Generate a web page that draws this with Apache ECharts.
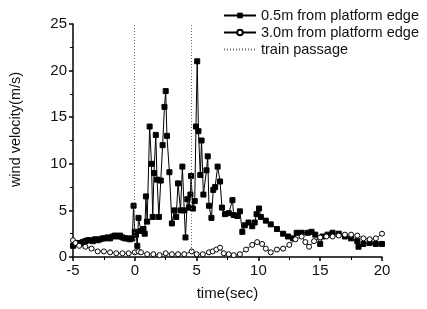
<!DOCTYPE html>
<html>
<head>
<meta charset="utf-8">
<script src="https://cdn.jsdelivr.net/npm/echarts@6/dist/echarts.min.js"></script>
<style>
    html, body { margin: 0; padding: 0; background: #fff; }
    #chart { width: 427px; height: 309px; }
</style>
</head>
<body>
<div id="chart"></div>
<script>
    // 0.5m from platform edge
    var t1 = [-5, -4.8, -4.6, -4.4, -4.2, -4, -3.8, -3.6, -3.4, -3.2, -3, -2.8, -2.6, -2.4, -2.2, -2, -1.8, -1.6, -1.4, -1.2, -1, -0.8, -0.6, -0.4, -0.2,
        -0.1, 0, 0.1, 0.2, 0.3, 0.5, 0.7, 0.8, 0.9, 1.0, 1.2, 1.35, 1.45, 1.55, 1.7, 1.8, 1.95, 2.1, 2.25, 2.4, 2.5, 2.6, 2.8, 3.0, 3.2, 3.35, 3.5, 3.7, 3.85,
        4.0, 4.1, 4.25, 4.4, 4.5, 4.55, 4.7, 4.85, 4.95, 5.05, 5.15, 5.3, 5.4, 5.55, 5.8, 5.9, 6.0, 6.2, 6.35, 6.5, 6.7, 6.9, 7.05, 7.3, 7.6, 7.9, 8.0,
        8.3, 8.5, 8.7, 8.9, 9.2, 9.5, 9.7, 9.85, 10.05, 10.2, 10.6, 11.0, 11.5, 12.0, 12.4, 12.8, 13.1, 13.5, 14.0, 14.3, 14.6, 15.0, 15.2, 15.6, 16.0,
        16.5, 17.0, 17.5, 18.0, 18.1, 18.5, 19.0, 19.5, 20];
    var v1 = [1.2, 1.4, 1.5, 1.5, 1.6, 1.7, 1.8, 1.8, 1.7, 1.9, 1.8, 1.9, 2.0, 2.0, 2.1, 2.0, 2.2, 2.3, 2.2, 2.3, 2.1, 2.0, 2.0, 1.9, 2.0,
        5.5, 2.7, 2.4, 1.2, 4.2, 2.8, 3.0, 2.5, 6.5, 3.8, 14.0, 10.0, 4.3, 9.0, 13.1, 8.3, 4.3, 8.2, 12.0, 16.1, 17.8, 13.0, 9.1, 3.6, 5.0, 4.3, 7.9, 5.0, 9.7,
        5.0, 2.1, 6.2, 5.3, 6.7, 8.7, 5.2, 6.0, 14.0, 21.0, 13.5, 8.8, 12.5, 6.7, 9.3, 10.8, 5.5, 4.2, 7.2, 7.5, 9.7, 8.1, 5.3, 4.6, 4.7, 6.1, 4.5,
        4.4, 4.9, 2.7, 3.4, 3.7, 3.3, 3.7, 4.6, 5.2, 4.3, 3.9, 3.5, 3.0, 2.5, 2.2, 2.0, 2.6, 2.6, 2.6, 2.7, 2.4, 1.4, 2.2, 2.4, 2.6,
        2.5, 2.2, 2.0, 1.7, 1.1, 1.4, 1.5, 1.4, 1.4];

    // 3.0m from platform edge
    var t2 = [-5, -4.8, -4.5, -4, -3.5, -3, -2.5, -2, -1.5, -1, -0.5, 0, 0.3, 0.5, 1.0, 1.5, 2, 2.5, 3, 3.5, 4, 4.6, 5, 5.5, 6, 6.3, 6.6, 6.9, 7.2, 7.6, 8, 8.5,
        9, 9.5, 9.9, 10.3, 10.6, 11, 11.5, 12, 12.5, 13, 13.5, 13.8, 14.1, 14.5, 15, 15.5, 16, 16.5, 17, 17.5, 18, 18.5, 19, 19.5, 20];
    var v2 = [1.8, 1.5, 1.2, 1.1, 0.9, 0.6, 0.6, 0.5, 0.4, 0.4, 0.4, 0.5, 0.6, 0.5, 0.3, 0.3, 0.2, 0.4, 0.3, 0.3, 0.3, 0.6, 0.3, 0.3, 0.5, 0.6, 0.8, 1.0, 0.4, 0.3, 0.2, 0.3,
        0.8, 1.3, 1.6, 1.4, 0.9, 0.5, 0.8, 0.9, 1.3, 1.9, 2.2, 1.6, 1.1, 1.7, 2.1, 2.2, 2.2, 2.3, 2.4, 2.4, 2.3, 2.0, 1.9, 2.0, 2.5];

    // train passage
    var passage = [-0.05, 4.6];

    var xTicks = [-5, 0, 5, 10, 15, 20];
    var yTicks = [0, 5, 10, 15, 20, 25];

    function pairs(t, v) {
        var out = [];
        for (var i = 0; i < t.length; i++) {
            out.push([t[i], v[i]]);
        }
        return out;
    }

    var font = '"Liberation Sans", Arial, sans-serif';
    var myChart = echarts.init(document.getElementById('chart'));
    var option = {
        animation: false,
        grid: { left: 72, right: 45, top: 24, bottom: 52 },
        legend: {
            orient: 'vertical',
            left: 218,
            top: 3,
            itemWidth: 32,
            itemHeight: 7,
            itemGap: 2,
            textStyle: { fontFamily: font, fontSize: 14.5, color: '#111' },
            data: [
                { name: '0.5m from platform edge' },
                { name: '3.0m from platform edge' },
                { name: 'train passage', itemStyle: { opacity: 0 } }
            ]
        },
        xAxis: {
            type: 'value',
            min: xTicks[0],
            max: xTicks[xTicks.length - 1],
            interval: 5,
            name: 'time(sec)',
            nameLocation: 'middle',
            nameGap: 29,
            nameTextStyle: { fontFamily: font, fontSize: 15, color: '#111' },
            axisLine: { onZero: false, lineStyle: { color: '#000', width: 1.5 } },
            axisTick: { length: 4, lineStyle: { color: '#000', width: 1.5 } },
            minorTick: { show: true, splitNumber: 2, length: 3, lineStyle: { color: '#000' } },
            axisLabel: { fontFamily: font, fontSize: 15, color: '#111', margin: 6 },
            splitLine: { show: false }
        },
        yAxis: {
            type: 'value',
            min: yTicks[0],
            max: yTicks[yTicks.length - 1],
            interval: 5,
            name: 'wind velocity(m/s)',
            nameLocation: 'middle',
            nameGap: 50,
            nameTextStyle: { fontFamily: font, fontSize: 14.5, color: '#111', padding: [0, 0, 0, 22] },
            axisLine: { show: true, onZero: false, lineStyle: { color: '#000', width: 1.5 } },
            axisTick: { show: true, length: 4, lineStyle: { color: '#000', width: 1.5 } },
            minorTick: { show: true, splitNumber: 2, length: 3, lineStyle: { color: '#000' } },
            axisLabel: { fontFamily: font, fontSize: 15, color: '#111', margin: 6 },
            splitLine: { show: false }
        },
        series: [
            {
                name: '0.5m from platform edge',
                type: 'line',
                data: pairs(t1, v1),
                symbol: 'rect',
                symbolSize: 5,
                showAllSymbol: true,
                lineStyle: { color: '#000', width: 1 },
                itemStyle: { color: '#000', borderColor: '#000' },
                z: 3
            },
            {
                name: '3.0m from platform edge',
                type: 'line',
                data: pairs(t2, v2),
                symbol: 'circle',
                symbolSize: 5,
                showAllSymbol: true,
                lineStyle: { color: '#000', width: 0.8 },
                itemStyle: { color: '#fff', borderColor: '#000', borderWidth: 1 },
                z: 4
            },
            {
                name: 'train passage',
                type: 'line',
                data: [],
                symbol: 'none',
                lineStyle: { color: '#666', width: 1, type: [1, 2] },
                itemStyle: { color: '#666' },
                markLine: {
                    silent: true,
                    symbol: ['none', 'none'],
                    label: { show: false },
                    lineStyle: { color: '#666', width: 1, type: [1, 2] },
                    data: passage.map(function (x) { return { xAxis: x }; })
                }
            }
        ]
    };
    myChart.setOption(option);
</script>
</body>
</html>
